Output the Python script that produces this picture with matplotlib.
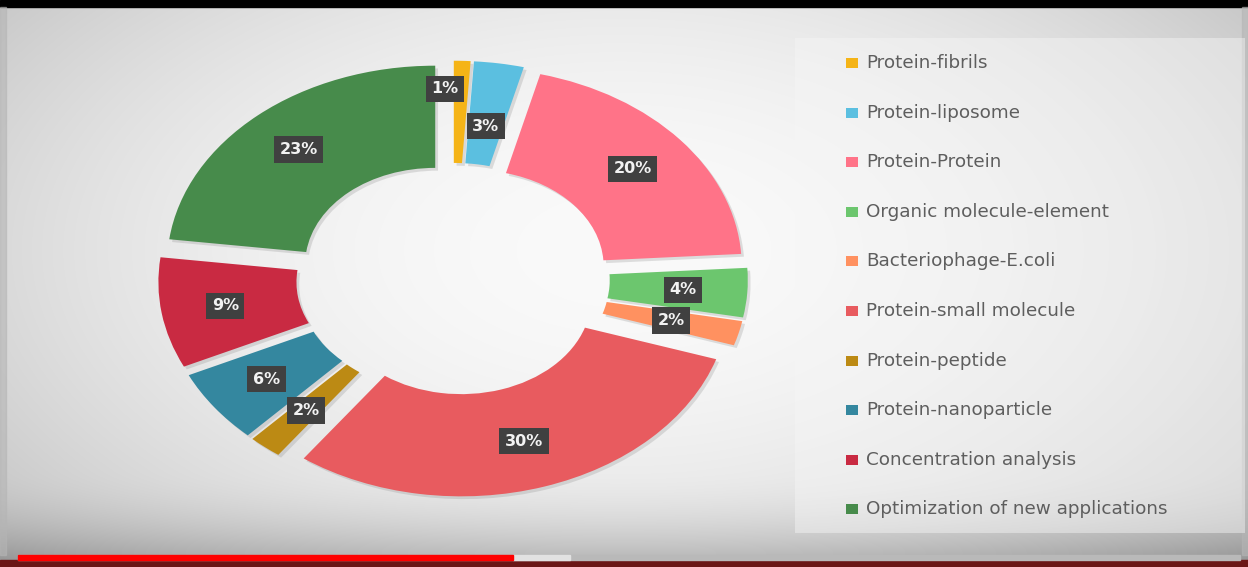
import numpy as np
import matplotlib
matplotlib.use("Agg")
import matplotlib.pyplot as plt
import matplotlib.patheffects as pe
from matplotlib.patches import Rectangle

categories = ["Protein-fibrils", "Protein-liposome", "Protein-Protein",
              "Organic molecule-element", "Bacteriophage-E.coli",
              "Protein-small molecule", "Protein-peptide",
              "Protein-nanoparticle", "Concentration analysis",
              "Optimization of new applications"]
shares = [1, 3, 20, 4, 2, 30, 2, 6, 9, 23]
colors = ["#F5B417", "#5BBFE0", "#FF7388", "#6CC66E", "#FF9160",
          "#E85B5F", "#BC8A14", "#34879F", "#C92A42", "#478B4B"]

# label distance from each wedge's own centre (small top slices pushed apart)
label_r = [0.86, 0.68, 0.77, 0.76, 0.74, 0.76, 0.76, 0.76, 0.76, 0.77]
label_dx = [-0.06, 0, 0, 0, 0, 0, 0, 0, 0, 0]

W, H = 1248, 567
fig = plt.figure(figsize=(W / 100, H / 100), dpi=100)

# background: soft vignette like a projected slide
ax_bg = fig.add_axes([0, 0, 1, 1])
yy, xx = np.mgrid[0:H, 0:W]
nx = (xx - 620) / 820
ny = (yy - 250) / 450
v = 0.98 - 0.22 * (nx ** 2 + ny ** 2)
v -= 0.16 * np.clip((yy - 470) / 90, 0, 1) ** 2
v = np.clip(v, 0, 1)
ax_bg.imshow(np.dstack([v, v, v]), extent=(0, W, H, 0), aspect="auto")
ax_bg.set_xlim(0, W)
ax_bg.set_ylim(H, 0)
ax_bg.axis("off")

# frame bits: black bar on top, player bar at the bottom
ax_bg.add_patch(Rectangle((0, 0), W, 7, color="black"))
ax_bg.add_patch(Rectangle((0, 560), W, 7, color="#6B1616"))
ax_bg.add_patch(Rectangle((18, 555), 1222, 5, color="#B9B9B9"))
ax_bg.add_patch(Rectangle((513, 555), 57, 5, color="#E2E2E2"))
ax_bg.add_patch(Rectangle((18, 555), 495, 5, color="#FF0000"))
ax_bg.add_patch(Rectangle((0, 7), 6, 548, color="#B5B5B5", alpha=0.6))
ax_bg.add_patch(Rectangle((1242, 7), 6, 548, color="#B5B5B5", alpha=0.6))

# legend panel
ax_bg.add_patch(Rectangle((795, 38), 450, 495, color="#F6F6F6", alpha=0.45, lw=0))
for i, (name, c) in enumerate(zip(categories, colors)):
    y = 63 + i * 49.6
    ax_bg.add_patch(Rectangle((846, y - 5), 12, 10, color=c, lw=0))
    ax_bg.text(866, y, name, fontsize=13.2, color="#5E5E5E", va="center",
               ha="left", family="DejaVu Sans")

# donut
ax = fig.add_axes([0.0837, 0.0529, 0.5585, 0.910])
ax.patch.set_alpha(0)
wedges, _ = ax.pie(shares, colors=colors, startangle=90, counterclock=False,
                   explode=[0.1] * len(shares),
                   wedgeprops=dict(width=0.515, linewidth=0))
for w in wedges:
    w.set_path_effects([pe.SimplePatchShadow(offset=(2, -2), shadow_rgbFace="#888888",
                                             alpha=0.25), pe.Normal()])
ax.set_aspect("auto")
ax.set_xlim(-1.3, 1.3)
ax.set_ylim(-1.3, 1.3)
ax.axis("off")

for i, (w, s) in enumerate(zip(wedges, shares)):
    ang = np.deg2rad((w.theta1 + w.theta2) / 2)
    cx, cy = w.center
    x = cx + label_r[i] * np.cos(ang) + label_dx[i]
    y = cy + label_r[i] * np.sin(ang)
    ax.text(x, y, f"{s}%", ha="center", va="center", color="#F2F2F2",
            fontsize=11.5, fontweight="bold", family="DejaVu Sans",
            bbox=dict(boxstyle="square,pad=0.35", fc="#404040", ec="none"))

fig.savefig("out.png", dpi=100)
